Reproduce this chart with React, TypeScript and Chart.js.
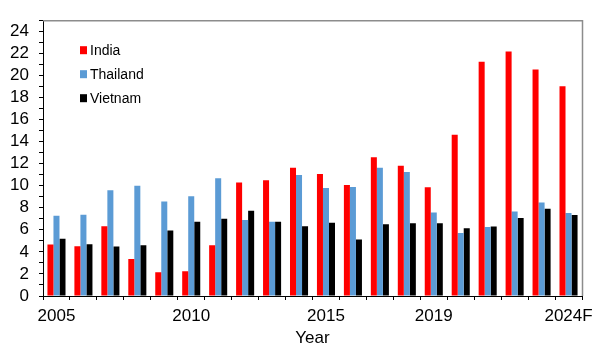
import React, { useEffect, useRef } from "react";
import { Chart, registerables } from "chart.js";

Chart.register(...registerables);

const years = [
  "2005", "2006", "2007", "2008", "2009", "2010", "2011", "2012", "2013", "2014",
  "2015", "2016", "2017", "2018", "2019", "2020", "2021", "2022", "2023", "2024F",
];
const shownYearLabels = ["2005", "2010", "2015", "2019", "2024F"];

const india = [4.67, 4.52, 6.32, 3.36, 2.16, 2.25, 4.61, 10.28, 10.49, 11.63, 11.06, 10.07, 12.58, 11.8, 9.86, 14.62, 21.24, 22.17, 20.52, 19.02];
const thailand = [7.28, 7.37, 9.59, 10.0, 8.57, 9.05, 10.67, 6.89, 6.74, 10.97, 9.8, 9.89, 11.63, 11.24, 7.58, 5.72, 6.26, 7.67, 8.48, 7.52];
const vietnam = [5.18, 4.7, 4.49, 4.61, 5.93, 6.74, 7.01, 7.73, 6.74, 6.32, 6.65, 5.12, 6.5, 6.59, 6.59, 6.14, 6.29, 7.07, 7.91, 7.34];

const seriesNames = ["India", "Thailand", "Vietnam"];
const seriesColors = ["#FF0000", "#5B9BD5", "#000000"];

const FONT = "'Liberation Sans', Arial, sans-serif";

const framePlugin = {
  id: "frameAndLegend",
  afterDatasetsDraw(chart: any) {
    const { ctx, chartArea } = chart;
    ctx.save();
    // grey frame on top and right
    ctx.strokeStyle = "#8C8C8C";
    ctx.lineWidth = 1.5;
    ctx.beginPath();
    ctx.moveTo(chartArea.left, chartArea.top + 0.5);
    ctx.lineTo(chartArea.right + 0.5, chartArea.top + 0.5);
    ctx.lineTo(chartArea.right + 0.5, chartArea.bottom);
    ctx.stroke();
    // legend inside plot area
    ctx.font = `14px ${FONT}`;
    ctx.textBaseline = "middle";
    ctx.textAlign = "left";
    chart.data.datasets.forEach((ds: any, i: number) => {
      const x = chartArea.left + 37;
      const y = chartArea.top + 30 + i * 24;
      ctx.fillStyle = ds.backgroundColor;
      ctx.fillRect(x, y - 4, 7, 8);
      ctx.fillStyle = "#000";
      ctx.fillText(ds.label, x + 10, y + 0.5);
    });
    ctx.restore();
  },
};

export default function App() {
  const canvasRef = useRef<HTMLCanvasElement | null>(null);

  useEffect(() => {
    if (!canvasRef.current) return;
    const chart = new Chart(canvasRef.current, {
      type: "bar",
      data: {
        labels: years,
        datasets: [india, thailand, vietnam].map((d, i) => ({
          label: seriesNames[i],
          data: d,
          backgroundColor: seriesColors[i],
          borderWidth: 0,
          categoryPercentage: 0.67,
          barPercentage: 1.0,
        })),
      },
      options: {
        responsive: false,
        animation: false,
        layout: { padding: { top: 17, right: 24, left: 0, bottom: 0 } },
        plugins: {
          legend: { display: false },
          tooltip: { enabled: false },
        },
        scales: {
          x: {
            offset: true,
            grid: {
              display: true,
              offset: true,
              drawOnChartArea: false,
              drawTicks: true,
              tickLength: 4,
              color: "#000",
              tickColor: "#000",
            },
            border: { display: true, color: "#000", width: 1 },
            ticks: {
              autoSkip: false,
              maxRotation: 0,
              color: "#000",
              padding: 6,
              font: { family: FONT, size: 17 },
              callback: function (this: any, _v: any, idx: number) {
                const lab = years[idx];
                return shownYearLabels.includes(lab) ? lab : "";
              },
            },
            title: {
              display: true,
              text: "Year",
              color: "#000",
              padding: 0,
              font: { family: FONT, size: 17 },
            },
            afterFit: (scale: any) => {
              scale.height = 53;
            },
          },
          y: {
            min: 0,
            max: 25,
            grid: {
              display: true,
              drawOnChartArea: false,
              drawTicks: true,
              tickLength: 4,
              color: "#000",
              tickColor: "#000",
            },
            border: { display: true, color: "#000", width: 1 },
            ticks: {
              stepSize: 1,
              autoSkip: false,
              color: "#000",
              padding: 10,
              font: { family: FONT, size: 17 },
              callback: (v: any) => (Number(v) % 2 === 0 ? String(v) : ""),
            },
            afterFit: (scale: any) => {
              scale.width = 43;
            },
          },
        },
      },
      plugins: [framePlugin],
    });
    return () => chart.destroy();
  }, []);

  return (
    <div style={{ position: "fixed", left: 0, top: 0, width: 606, height: 349, background: "#fff" }}>
      <canvas ref={canvasRef} width={606} height={349} style={{ display: "block" }} />
    </div>
  );
}
